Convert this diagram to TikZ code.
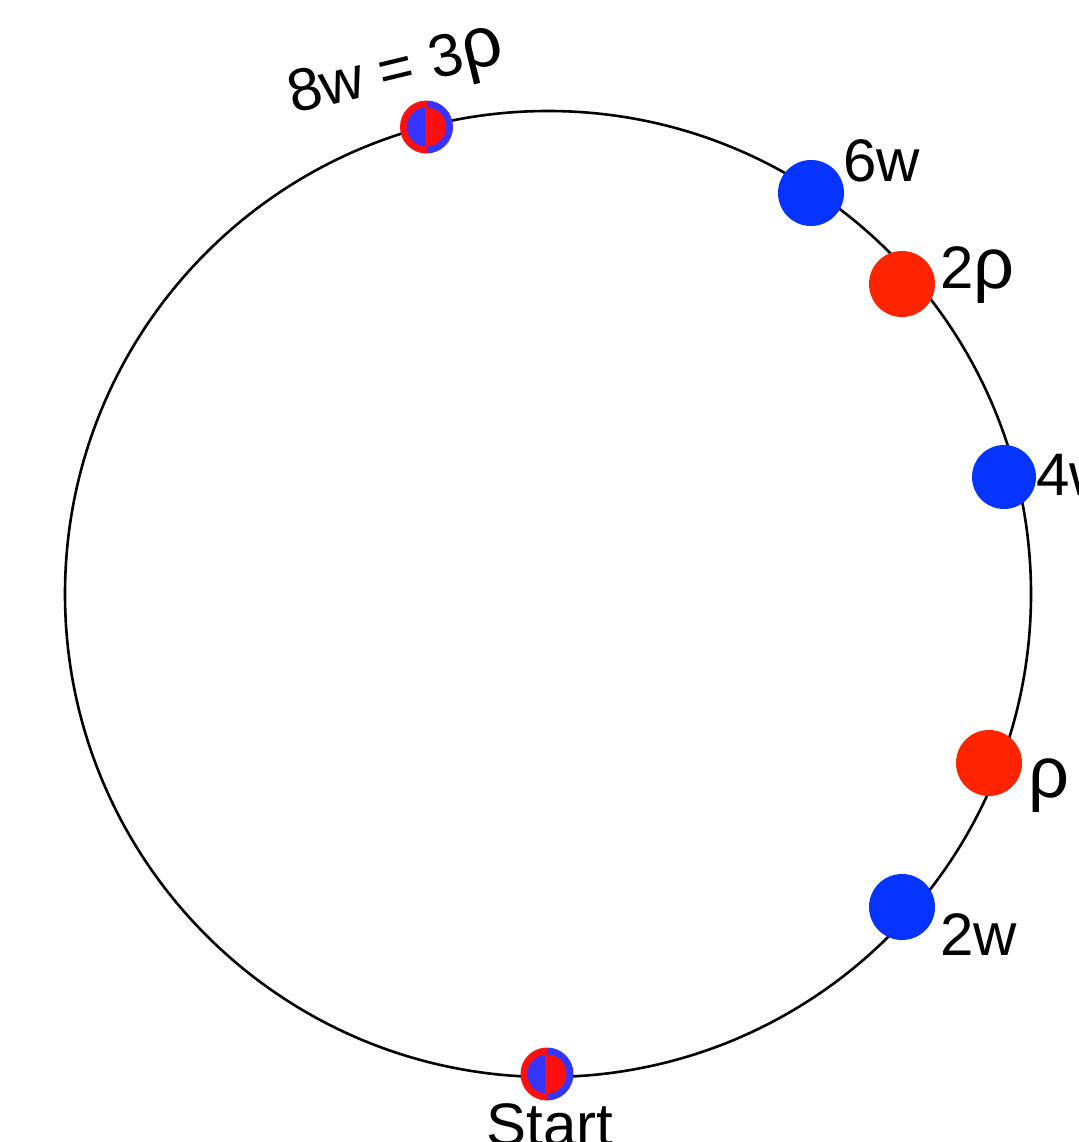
\documentclass[tikz,border=0pt]{standalone}
\usepackage{fontspec}
\setmainfont{Liberation Sans}
\definecolor{dotblue}{HTML}{0533FF}
\definecolor{dotred}{HTML}{FF2400}
\definecolor{sblue}{HTML}{3535FF}
\definecolor{sred}{HTML}{FF1010}
\begin{document}
\begin{tikzpicture}[x=1pt,y=-1pt,
  bluedot/.style={circle,fill=dotblue,inner sep=0pt,minimum size=66pt},
  reddot/.style={circle,fill=dotred,inner sep=0pt,minimum size=66pt},
  splitdot/.style={circle,inner sep=0pt,minimum size=53pt,
    path picture={
      \fill[sred] ([xshift=-30pt,yshift=-30pt]path picture bounding box.center) rectangle ([yshift=30pt]path picture bounding box.center);
      \fill[sblue] ([yshift=-30pt]path picture bounding box.center) rectangle ([xshift=30pt,yshift=30pt]path picture bounding box.center);
      \begin{scope}
        \clip (path picture bounding box.center) circle (19.5pt);
        \fill[sred] ([xshift=-30pt,yshift=-30pt]path picture bounding box.center) rectangle ([xshift=30pt,yshift=30pt]path picture bounding box.center);
        \fill[sblue] ([xshift=-30pt,yshift=-30pt]path picture bounding box.center) rectangle ([xshift=-2pt,yshift=30pt]path picture bounding box.center);
      \end{scope}
    }},
  lbl/.style={inner sep=0pt,anchor=base west,font=\fontsize{60}{72}\selectfont},
  bigrho/.style={}]
\useasboundingbox (0,0) rectangle (1078,1142);
\fill[white] (0,0) rectangle (1078,1142);
\node[circle,draw=black,line width=2.6pt,minimum size=966pt,inner sep=0pt] (ring) at (548,594) {};
\node[splitdot] (top) at (426.5,127) {};
\node[splitdot] (start) at (547,1074) {};
\node[bluedot] (w6) at (811,193) {};
\node[reddot] (p2) at (902,284) {};
\node[bluedot,minimum size=64pt] (w4) at (1004,477) {};
\node[reddot] (p1) at (989,763) {};
\node[bluedot] (w2) at (902,907) {};
\node[lbl] (l6w) at (843,182) {6w};
\node[lbl] (l2p) at (940,288) {2{\fontsize{72}{80}\selectfont ρ}};
\node[lbl] (l4w) at (1036,495) {4w};
\node[lbl] (l1p) at (1028,797) {{\fontsize{72}{80}\selectfont ρ}};
\node[lbl] (l2w) at (940,955) {2w};
\node[lbl,anchor=base] (lstart) at (550,1145) {Start};
\node[lbl,rotate=13.6] (ltop) at (293,114) {8w = 3{\fontsize{72}{80}\selectfont ρ}};
\end{tikzpicture}
\end{document}
